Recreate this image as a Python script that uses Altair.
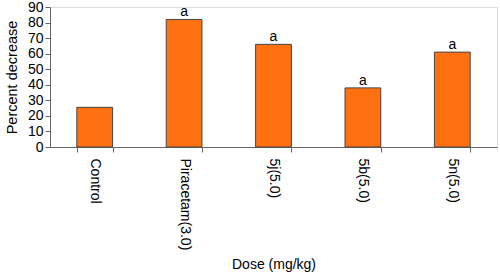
import altair as alt
import pandas as pd

categories = ["Control", "Piracetam(3.0)", "5j(5.0)", "5b(5.0)", "5n(5.0)"]
values = [25.5, 82, 66, 38, 61]
marks = ["", "a", "a", "a", "a"]

df = pd.DataFrame({"cat": categories, "val": values, "mark": marks})

FONT = "Liberation Sans"

x = alt.X("cat:N", sort=categories, title="Dose (mg/kg)",
          scale=alt.Scale(paddingInner=0.6, paddingOuter=0.3),
          axis=alt.Axis(labelAngle=90, labelAlign="left", labelBaseline="middle",
                        labelFontSize=14, labelFont=FONT, labelColor="#000",
                        titleFont=FONT, titleFontSize=14, titleFontWeight="normal",
                        titleColor="#000", titlePadding=8,
                        domainColor="#666", tickColor="#666", tickSize=5,
                        tickBand="extent", labelPadding=6, labelOverlap=False))
y = alt.Y("val:Q", title="Percent decrease",
          scale=alt.Scale(domain=[0, 90], nice=False),
          axis=alt.Axis(values=list(range(0, 91, 10)), grid=False, labelOverlap=False,
                        labelFontSize=14, labelFont=FONT, labelColor="#000",
                        titleFont=FONT, titleFontSize=14.5, titleFontWeight="normal",
                        titleColor="#000", titlePadding=8,
                        domainColor="#666", tickColor="#666", tickSize=5))

bars = alt.Chart(df).mark_bar(color="#FF7010", stroke="#444", strokeWidth=1).encode(x=x, y=y)
text = alt.Chart(df).mark_text(dy=-7, fontSize=14, font=FONT, color="#000").encode(
    x=x, y=y, text="mark:N")

chart = (bars + text).properties(
    width=447, height=140,
    autosize=alt.AutoSizeParams(type="none"),
    padding={"left": 50, "top": 7, "right": 3, "bottom": 128},
).configure_view(stroke=None).configure(background="white")

chart.save("out.html", embed_options={"renderer": "svg", "actions": False})
